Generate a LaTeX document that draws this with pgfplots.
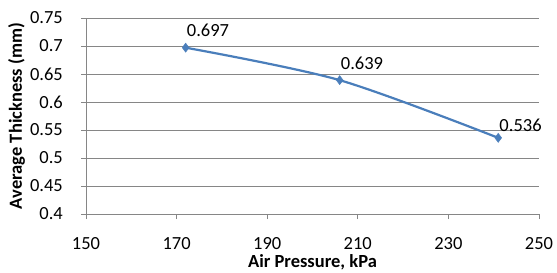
\documentclass[border=0pt]{standalone}
\usepackage{pgfplots}
\pgfplotsset{compat=1.18}
\usepackage{fontspec}
\setmainfont{Carlito}
\definecolor{lineblue}{HTML}{4A7EBB}
\definecolor{axgray}{HTML}{868686}
\begin{document}
\begin{tikzpicture}[x=1pt,y=1pt]
\useasboundingbox (0,0) rectangle (557,273);
\begin{axis}[
  at={(86pt,59pt)}, anchor=south west,
  scale only axis, width=453pt, height=196pt,
  xmin=150, xmax=250, ymin=0.4, ymax=0.75,
  xtick={150,170,...,250},
  ytick={0.4,0.45,...,0.75},
  yticklabels={0.4,0.45,0.5,0.55,0.6,0.65,0.7,0.75},
  axis x line*=bottom, axis y line*=left,
  axis line style={axgray, line width=0.8pt},
  x axis line style={-}, y axis line style={-},
  tick align=outside, major tick length=5pt,
  tick style={axgray, line width=0.8pt},
  ymajorgrids, grid style={axgray, line width=0.8pt},
  /pgf/number format/assume math mode=true,
  ticklabel style={font=\fontsize{18.5}{20}\selectfont, text=black},
  yticklabel style={anchor=east, inner sep=0pt, xshift=-18pt},
  xticklabel style={anchor=north, inner sep=0pt, yshift=-18pt},
  xlabel={Air Pressure, kPa},
  ylabel={Average Thickness (mm)},
  label style={font=\bfseries\fontsize{18.5}{20}\selectfont, text=black},
  xlabel style={at={(axis description cs:0.5,-0.2755)}, anchor=base, inner sep=0pt},
  ylabel style={at={(axis description cs:-0.1722,0.5)}, anchor=north, inner sep=0pt},
  clip=false,
  visualization depends on={\thisrow{dy} \as \dy},
  nodes near coords,
  point meta=explicit symbolic,
  every node near coord/.style={font=\fontsize{18.5}{20}\selectfont, text=black, anchor=base west, inner sep=0pt, xshift=1pt, yshift=\dy pt},
]
\addplot[lineblue, line width=2.2pt, smooth, tension=0.5, mark=diamond*, mark size=4.5pt, mark options={fill=lineblue, draw=lineblue, line width=0.5pt}]
  table[meta=lab] {
  x y lab dy
  172 0.697 0.697 11
  206 0.639 0.639 11
  241 0.536 0.536 6
};
\end{axis}
\end{tikzpicture}
\end{document}
